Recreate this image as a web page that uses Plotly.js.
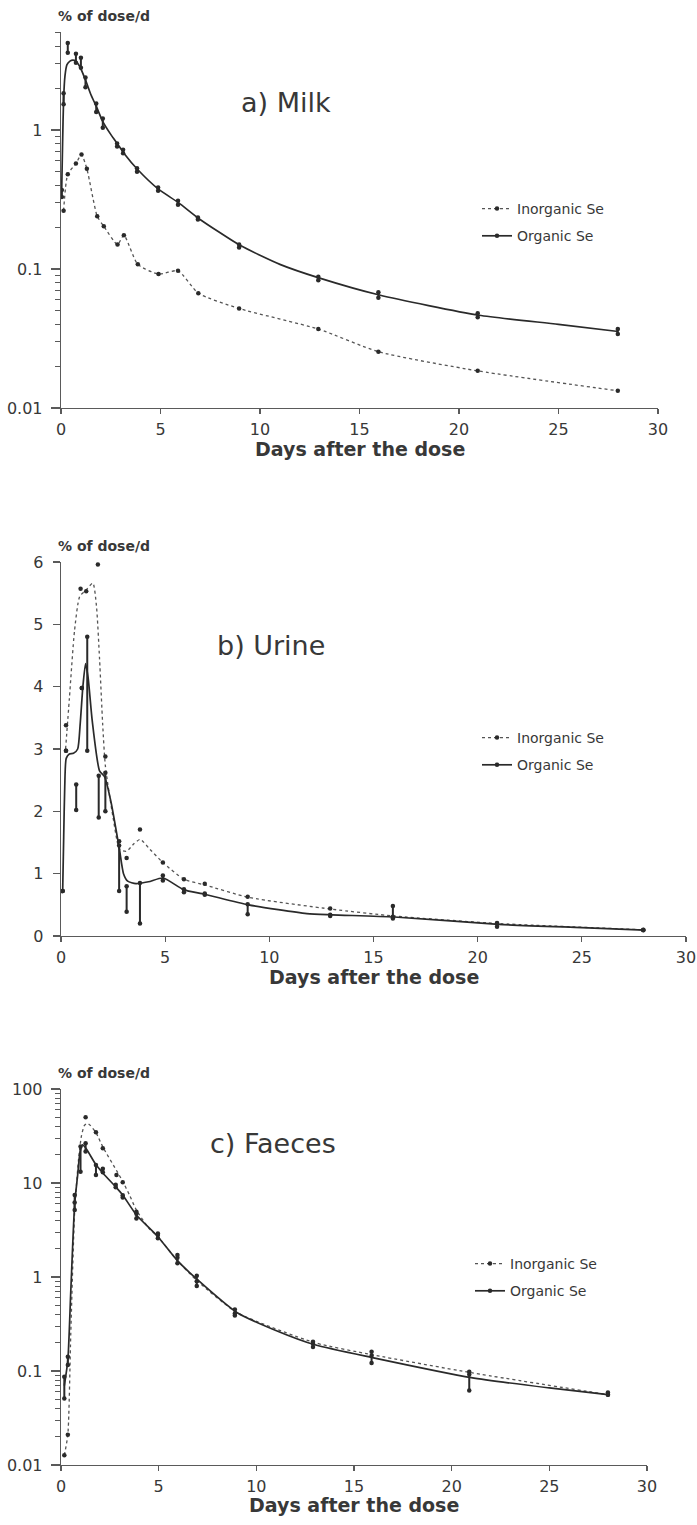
<!DOCTYPE html>
<html>
<head>
<meta charset="utf-8">
<script src="https://cdn.plot.ly/plotly-3.0.1.min.js"></script>
<style>
  html, body { margin: 0; padding: 0; background: #fff; }
  #chart { width: 697px; height: 1525px; }
</style>
</head>
<body>
<div id="chart"></div>
<script>
// ---------- DATA ----------
// a) Milk
const milkOrgDays = [0.04, 0.13, 0.34, 0.75, 1.0, 1.23, 1.77, 2.1, 2.82, 3.12, 3.82, 4.88, 5.88, 6.88, 8.95, 12.93, 15.95, 20.94, 27.98];
const milkOrgLo   = [0.33, 1.53, 3.59, 3.05, 2.81, 2.03, 1.35, 1.04, 0.76, 0.68, 0.50, 0.365, 0.29, 0.227, 0.143, 0.083, 0.062, 0.045, 0.034];
const milkOrgHi   = [0.37, 1.84, 4.23, 3.54, 3.31, 2.39, 1.55, 1.21, 0.80, 0.72, 0.53, 0.386, 0.31, 0.235, 0.150, 0.088, 0.068, 0.048, 0.037];
const milkInoDays = [0.13, 0.34, 0.75, 1.03, 1.3, 1.82, 2.15, 2.84, 3.16, 3.86, 4.9, 5.88, 6.9, 8.95, 12.93, 15.95, 20.94, 27.98];
const milkInoVal  = [0.262, 0.48, 0.574, 0.665, 0.526, 0.24, 0.203, 0.15, 0.175, 0.108, 0.092, 0.097, 0.067, 0.052, 0.037, 0.0254, 0.0185, 0.0133];
const milkOrgFitDays = [0.03, 0.08, 0.13, 0.2, 0.3, 0.45, 0.6, 0.75, 0.95, 1.25, 1.5, 1.8, 2.1, 2.5, 2.85, 3.2, 3.85, 4.9, 5.9, 6.9, 9, 11, 13, 16, 21, 25, 28];
const milkOrgFitVal  = [0.34, 0.8, 1.65, 2.45, 2.95, 3.13, 3.18, 3.12, 2.85, 2.25, 1.8, 1.45, 1.15, 0.93, 0.79, 0.67, 0.52, 0.375, 0.30, 0.232, 0.148, 0.108, 0.086, 0.065, 0.0465, 0.04, 0.0355];

// b) Urine
const urineOrgDays = [0.08, 0.24, 0.73, 1.0, 1.26, 1.81, 2.13, 2.79, 3.15, 3.79, 4.89, 5.9, 6.9, 8.96, 12.92, 15.93, 20.93, 27.95];
const urineOrgLo   = [0.72, 2.97, 2.02, 3.98, 2.97, 1.90, 2.00, 0.72, 0.39, 0.20, 0.89, 0.70, 0.66, 0.35, 0.32, 0.28, 0.15, 0.094];
const urineOrgHi   = [0.72, 2.97, 2.43, 3.98, 4.80, 2.57, 2.62, 1.45, 0.80, 0.85, 0.97, 0.75, 0.68, 0.51, 0.34, 0.48, 0.21, 0.098];
const urineInoDays = [0.24, 0.94, 1.21, 1.77, 2.13, 2.79, 3.15, 3.79, 4.89, 5.9, 6.9, 8.96, 12.92, 15.93, 20.93, 27.95];
const urineInoVal  = [3.38, 5.57, 5.53, 5.96, 2.88, 1.52, 1.25, 1.71, 1.18, 0.91, 0.84, 0.63, 0.44, 0.31, 0.20, 0.10];
const urineOrgFitDays = [0.08, 0.13, 0.18, 0.25, 0.4, 0.6, 0.8, 0.92, 1.05, 1.18, 1.3, 1.5, 1.85, 2.1, 2.4, 2.8, 3.0, 3.2, 3.6, 4.2, 4.9, 5.9, 6.9, 9, 11.8, 13, 16, 21, 25, 28];
const urineOrgFitVal  = [0.72, 1.6, 2.4, 2.85, 2.92, 2.93, 3.0, 3.4, 4.0, 4.37, 4.15, 3.45, 2.65, 2.55, 2.15, 1.4, 1.0, 0.88, 0.84, 0.87, 0.93, 0.74, 0.67, 0.5, 0.36, 0.34, 0.305, 0.187, 0.134, 0.095];
const urineInoFitDays = [0.22, 0.4, 0.65, 0.9, 1.2, 1.53, 1.7, 1.85, 2.0, 2.13, 2.5, 2.82, 3.15, 3.5, 3.8, 4.27, 4.89, 5.9, 6.9, 9, 13, 16, 21, 28];
const urineInoFitVal  = [3.0, 3.8, 4.9, 5.45, 5.55, 5.66, 5.3, 4.45, 3.4, 2.73, 1.9, 1.39, 1.36, 1.48, 1.55, 1.39, 1.18, 0.91, 0.82, 0.62, 0.43, 0.32, 0.2, 0.1];

// c) Faeces
const faecesOrgDays = [0.17, 0.35, 0.7, 1.0, 1.26, 1.79, 2.14, 2.8, 3.16, 3.86, 4.96, 5.96, 6.95, 8.9, 12.9, 15.9, 20.9, 28.0];
const faecesOrgLo   = [0.051, 0.116, 5.17, 13.2, 21.6, 12.2, 13.0, 9.0, 7.0, 4.2, 2.58, 1.40, 0.80, 0.39, 0.18, 0.122, 0.062, 0.056];
const faecesOrgHi   = [0.087, 0.142, 7.45, 24.4, 26.4, 15.5, 14.2, 9.6, 7.4, 4.95, 2.9, 1.71, 1.03, 0.45, 0.205, 0.16, 0.098, 0.059];
const faecesInoDays = [0.17, 0.35, 0.7, 1.26, 1.79, 2.14, 2.84, 3.16, 3.86, 4.96, 5.96, 6.95, 8.9, 12.9, 15.9, 20.9, 28.0];
const faecesInoVal  = [0.0127, 0.021, 6.2, 50, 34.6, 23.4, 12.2, 10.2, 4.7, 2.8, 1.6, 0.9, 0.41, 0.195, 0.145, 0.092, 0.056];
const faecesOrgFitDays = [0.17, 0.35, 0.5, 0.7, 0.85, 0.97, 1.1, 1.3, 1.8, 2.15, 2.8, 3.15, 3.85, 4.95, 5.95, 7.0, 9, 11, 13, 16, 21, 25, 28];
const faecesOrgFitVal  = [0.07, 0.13, 0.7, 6.0, 12, 21, 25.5, 23, 15.5, 12.7, 9.1, 7.5, 4.6, 2.7, 1.5, 0.93, 0.42, 0.27, 0.19, 0.138, 0.085, 0.066, 0.056];
const faecesInoFitDays = [0.17, 0.35, 0.5, 0.7, 0.9, 1.05, 1.2, 1.35, 1.5, 1.8, 2.15, 2.85, 3.15, 3.5, 3.85, 4.5, 4.95, 5.95, 7, 9, 13, 16, 21, 28];
const faecesInoFitVal  = [0.0127, 0.021, 0.25, 5.0, 18, 32, 41, 43, 41, 34, 24, 13.5, 10.5, 7.5, 5.2, 3.3, 2.7, 1.5, 0.9, 0.42, 0.2, 0.148, 0.096, 0.056];

// Tick labels / text
const xTickVals = [0, 5, 10, 15, 20, 25, 30];
const logTickVals2 = [0.01, 0.1, 1];
const logTickText2 = ['0.01', '0.1', '1'];
const logTickVals4 = [0.01, 0.1, 1, 10, 100];
const logTickText4 = ['0.01', '0.1', '1', '10', '100'];
const linTickVals = [0, 1, 2, 3, 4, 5, 6];
const seriesNames = ['Inorganic Se', 'Organic Se'];
const panelTitles = ['a) Milk', 'b) Urine', 'c) Faeces'];
const yUnit = '% of dose/d';
const xTitle = 'Days after the dose';

// ---------- LAYOUT HELPERS ----------
const W = 697, H = 1525;
const px = v => v / W;
const py = v => 1 - v / H;
const FONT = 'DejaVu Sans, Arial, sans-serif';
const INK = '#2a2a2a';
const TXT = '#383838';

function minorLog(lo, hi) {
  const out = [];
  for (let e = lo; e < hi; e++) for (let m = 2; m <= 9; m++) out.push(m * Math.pow(10, e));
  return out;
}

const traces = [];
function addPanel(n, orgDays, orgLo, orgHi, inoDays, inoVal, orgFitD, orgFitV, inoFitD, inoFitV) {
  const xa = n === 1 ? 'x' : 'x' + n, ya = n === 1 ? 'y' : 'y' + n;
  const leg = n === 1 ? 'legend' : 'legend' + n;
  traces.push({ x: inoFitD, y: inoFitV, xaxis: xa, yaxis: ya, mode: 'lines', type: 'scatter',
    line: { color: '#555', width: 1.3, dash: '3px,3px', shape: 'spline', smoothing: 0.6 },
    showlegend: false, hoverinfo: 'skip' });
  traces.push({ x: orgFitD, y: orgFitV, xaxis: xa, yaxis: ya, mode: 'lines', type: 'scatter',
    line: { color: INK, width: 1.7, shape: 'spline', smoothing: 0.6 },
    showlegend: false, hoverinfo: 'skip' });
  traces.push({ x: inoDays, y: inoVal, xaxis: xa, yaxis: ya, mode: 'markers', type: 'scatter',
    marker: { color: INK, size: 4.5 }, showlegend: false, name: seriesNames[0] });
  traces.push({ x: orgDays, y: orgLo, xaxis: xa, yaxis: ya, mode: 'markers', type: 'scatter',
    marker: { color: INK, size: 4.5 }, showlegend: false, name: seriesNames[1],
    error_y: { type: 'data', symmetric: false, array: orgHi.map((h, i) => h - orgLo[i]),
      arrayminus: orgHi.map(() => 0), color: INK, thickness: 2, width: 1.5 } });
  traces.push({ x: orgDays, y: orgHi, xaxis: xa, yaxis: ya, mode: 'markers', type: 'scatter',
    marker: { color: INK, size: 4.5 }, showlegend: false, name: seriesNames[1] });
  traces.push({ x: [null], y: [null], xaxis: xa, yaxis: ya, mode: 'lines+markers', type: 'scatter',
    name: seriesNames[0], legend: leg, legendgroup: 'ino' + n,
    line: { color: '#555', width: 1.3, dash: '3px,3px' }, marker: { color: INK, size: 4.5 } });
  traces.push({ x: [null], y: [null], xaxis: xa, yaxis: ya, mode: 'lines+markers', type: 'scatter',
    name: seriesNames[1], legend: leg, legendgroup: 'org' + n,
    line: { color: INK, width: 1.7 }, marker: { color: INK, size: 4.5 } });
}

addPanel(1, milkOrgDays, milkOrgLo, milkOrgHi, milkInoDays, milkInoVal, milkOrgFitDays, milkOrgFitVal, milkInoDays, milkInoVal);
addPanel(2, urineOrgDays, urineOrgLo, urineOrgHi, urineInoDays, urineInoVal, urineOrgFitDays, urineOrgFitVal, urineInoFitDays, urineInoFitVal);
addPanel(3, faecesOrgDays, faecesOrgLo, faecesOrgHi, faecesInoDays, faecesInoVal, faecesOrgFitDays, faecesOrgFitVal, faecesInoFitDays, faecesInoFitVal);

const axisCommon = {
  showline: true, linecolor: '#5a5a5a', linewidth: 1.3, showgrid: false, zeroline: false,
  ticks: 'outside', tickcolor: '#5a5a5a', tickwidth: 1.3,
  tickfont: { family: FONT, size: 16, color: TXT }, fixedrange: true
};
function xAxis(dom, anchor) {
  return Object.assign({}, axisCommon, { domain: dom, anchor: anchor, range: [0, 30],
    tickvals: xTickVals, ticklen: 5, ticklabelstandoff: 1 });
}
function yLog(dom, anchor, range, tv, tt, lo, hi) {
  return Object.assign({}, axisCommon, { domain: dom, anchor: anchor, type: 'log', range: range,
    tickvals: tv, ticktext: tt, ticklen: 9, ticklabelstandoff: 5,
    minor: { tickvals: minorLog(lo, hi), ticks: 'outside', ticklen: 5, tickcolor: '#5a5a5a', tickwidth: 1, showgrid: false } });
}

const legendCommon = {
  font: { family: FONT, size: 14, color: TXT }, bgcolor: 'rgba(0,0,0,0)',
  xanchor: 'left', yanchor: 'top', itemwidth: 30, tracegroupgap: 6, traceorder: 'grouped'
};

const annotations = [];
function txt(text, x, y, size, weight, anchor) {
  annotations.push({ text: text, xref: 'paper', yref: 'paper', x: px(x), y: py(y),
    xanchor: anchor || 'center', yanchor: 'middle', showarrow: false,
    font: { family: FONT, size: size, color: TXT, weight: weight || 'normal' } });
}
txt(yUnit, 56, 16, 14, 'bold', 'left');
txt(yUnit, 56, 546, 14, 'bold', 'left');
txt(yUnit, 56, 1073, 14, 'bold', 'left');
txt(panelTitles[0], 286, 102, 27);
txt(panelTitles[1], 271, 645, 27);
txt(panelTitles[2], 273, 1143, 27);
txt(xTitle, (61 + 658) / 2, 449, 19, 'bold');
txt(xTitle, (61 + 686) / 2, 977, 19, 'bold');
txt(xTitle, (61 + 647) / 2, 1505, 19, 'bold');

const layout = {
  width: W, height: H, margin: { l: 0, r: 0, t: 0, b: 0 },
  paper_bgcolor: '#fff', plot_bgcolor: 'rgba(0,0,0,0)',
  xaxis:  xAxis([px(61), px(658)], 'y'),
  yaxis:  yLog([py(408), py(32)], 'x', [-2, 0.705], logTickVals2, logTickText2, -2, 1),
  xaxis2: xAxis([px(61), px(686)], 'y2'),
  yaxis2: Object.assign({}, axisCommon, { domain: [py(936), py(562)], anchor: 'x2', range: [0, 6],
    tickvals: linTickVals, ticklen: 7, ticklabelstandoff: 6 }),
  xaxis3: xAxis([px(61), px(647)], 'y3'),
  yaxis3: yLog([py(1465), py(1089)], 'x3', [-2, 2], logTickVals4, logTickText4, -2, 2),
  legend:  Object.assign({}, legendCommon, { x: px(477), y: py(193) }),
  legend2: Object.assign({}, legendCommon, { x: px(477), y: py(722) }),
  legend3: Object.assign({}, legendCommon, { x: px(470), y: py(1248) }),
  annotations: annotations,
  showlegend: true
};

Plotly.newPlot('chart', traces, layout, { displayModeBar: false, staticPlot: true });
</script>
</body>
</html>
